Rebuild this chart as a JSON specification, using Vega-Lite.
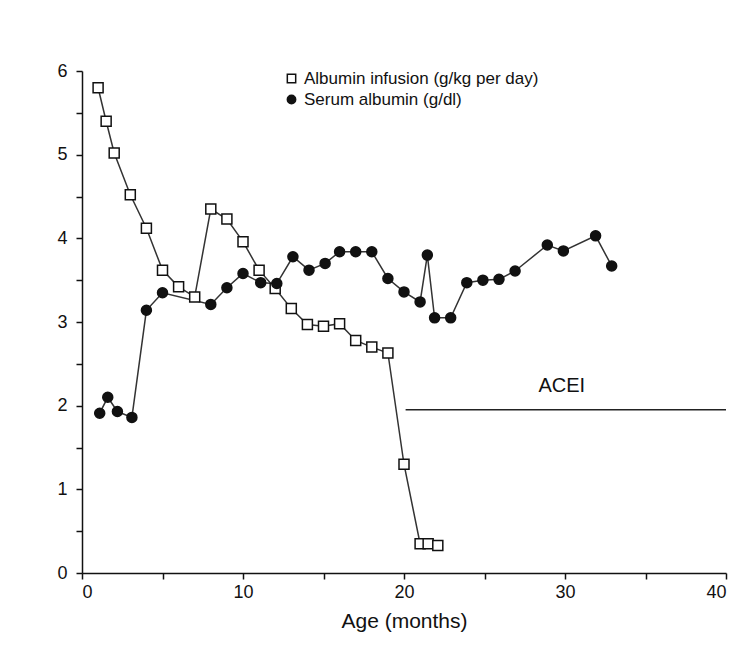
{
  "$schema": "https://vega.github.io/schema/vega-lite/v6.json",
  "width": 644,
  "height": 502,
  "autosize": "none",
  "padding": {"left": 82, "top": 71, "right": 22, "bottom": 82},
  "background": "white",
  "config": {
    "view": {"stroke": null},
    "font": "Liberation Sans",
    "axis": {
      "grid": false,
      "domainColor": "#111",
      "tickColor": "#111",
      "domainWidth": 1.5,
      "tickWidth": 1.5,
      "tickSize": 6,
      "labelColor": "#111",
      "labelFontSize": 18,
      "titleColor": "#111",
      "titleFontSize": 21,
      "titleFontWeight": "normal"
    },
    "legend": {
      "orient": "none",
      "legendX": 201,
      "legendY": -1,
      "labelFontSize": 17,
      "labelLimit": 0,
      "labelColor": "#111",
      "symbolSize": 70,
      "symbolStrokeWidth": 1.5,
      "rowPadding": 3,
      "labelOffset": 4
    }
  },
  "datasets": {
    "points": [
      {"series": "Albumin infusion (g/kg per day)", "age": 1, "value": 5.8},
      {"series": "Albumin infusion (g/kg per day)", "age": 1.5, "value": 5.4},
      {"series": "Albumin infusion (g/kg per day)", "age": 2, "value": 5.02},
      {"series": "Albumin infusion (g/kg per day)", "age": 3, "value": 4.52},
      {"series": "Albumin infusion (g/kg per day)", "age": 4, "value": 4.12},
      {"series": "Albumin infusion (g/kg per day)", "age": 5, "value": 3.62},
      {"series": "Albumin infusion (g/kg per day)", "age": 6, "value": 3.42},
      {"series": "Albumin infusion (g/kg per day)", "age": 7, "value": 3.3},
      {"series": "Albumin infusion (g/kg per day)", "age": 8, "value": 4.35},
      {"series": "Albumin infusion (g/kg per day)", "age": 9, "value": 4.23},
      {"series": "Albumin infusion (g/kg per day)", "age": 10, "value": 3.96},
      {"series": "Albumin infusion (g/kg per day)", "age": 11, "value": 3.62},
      {"series": "Albumin infusion (g/kg per day)", "age": 12, "value": 3.4},
      {"series": "Albumin infusion (g/kg per day)", "age": 13, "value": 3.16},
      {"series": "Albumin infusion (g/kg per day)", "age": 14, "value": 2.97},
      {"series": "Albumin infusion (g/kg per day)", "age": 15, "value": 2.95},
      {"series": "Albumin infusion (g/kg per day)", "age": 16, "value": 2.98},
      {"series": "Albumin infusion (g/kg per day)", "age": 17, "value": 2.78},
      {"series": "Albumin infusion (g/kg per day)", "age": 18, "value": 2.7},
      {"series": "Albumin infusion (g/kg per day)", "age": 19, "value": 2.63},
      {"series": "Albumin infusion (g/kg per day)", "age": 20, "value": 1.3},
      {"series": "Albumin infusion (g/kg per day)", "age": 21, "value": 0.35},
      {"series": "Albumin infusion (g/kg per day)", "age": 21.5, "value": 0.35},
      {"series": "Albumin infusion (g/kg per day)", "age": 22.1, "value": 0.33},
      {"series": "Serum albumin (g/dl)", "age": 1.1, "value": 1.91},
      {"series": "Serum albumin (g/dl)", "age": 1.6, "value": 2.1},
      {"series": "Serum albumin (g/dl)", "age": 2.2, "value": 1.93},
      {"series": "Serum albumin (g/dl)", "age": 3.1, "value": 1.86},
      {"series": "Serum albumin (g/dl)", "age": 4, "value": 3.14},
      {"series": "Serum albumin (g/dl)", "age": 5, "value": 3.35},
      {"series": "Serum albumin (g/dl)", "age": 8, "value": 3.21},
      {"series": "Serum albumin (g/dl)", "age": 9, "value": 3.41},
      {"series": "Serum albumin (g/dl)", "age": 10, "value": 3.58},
      {"series": "Serum albumin (g/dl)", "age": 11.1, "value": 3.47},
      {"series": "Serum albumin (g/dl)", "age": 12.1, "value": 3.46},
      {"series": "Serum albumin (g/dl)", "age": 13.1, "value": 3.78},
      {"series": "Serum albumin (g/dl)", "age": 14.1, "value": 3.62},
      {"series": "Serum albumin (g/dl)", "age": 15.1, "value": 3.7},
      {"series": "Serum albumin (g/dl)", "age": 16, "value": 3.84},
      {"series": "Serum albumin (g/dl)", "age": 17, "value": 3.84},
      {"series": "Serum albumin (g/dl)", "age": 18, "value": 3.84},
      {"series": "Serum albumin (g/dl)", "age": 19, "value": 3.52},
      {"series": "Serum albumin (g/dl)", "age": 20, "value": 3.36},
      {"series": "Serum albumin (g/dl)", "age": 21, "value": 3.24},
      {"series": "Serum albumin (g/dl)", "age": 21.45, "value": 3.8},
      {"series": "Serum albumin (g/dl)", "age": 21.9, "value": 3.05},
      {"series": "Serum albumin (g/dl)", "age": 22.9, "value": 3.05},
      {"series": "Serum albumin (g/dl)", "age": 23.9, "value": 3.47},
      {"series": "Serum albumin (g/dl)", "age": 24.9, "value": 3.5},
      {"series": "Serum albumin (g/dl)", "age": 25.9, "value": 3.51},
      {"series": "Serum albumin (g/dl)", "age": 26.9, "value": 3.61},
      {"series": "Serum albumin (g/dl)", "age": 28.9, "value": 3.92},
      {"series": "Serum albumin (g/dl)", "age": 29.9, "value": 3.85},
      {"series": "Serum albumin (g/dl)", "age": 31.9, "value": 4.03},
      {"series": "Serum albumin (g/dl)", "age": 32.9, "value": 3.67}
    ],
    "acei": [
      {"start": 20.1, "end": 40, "level": 1.95, "labelAge": 29.8, "labelLevel": 2.24, "label": "ACEI"}
    ]
  },
  "layer": [
    {
      "data": {"name": "points"},
      "mark": {"type": "line", "color": "#333", "strokeWidth": 1.5},
      "encoding": {
        "x": {"field": "age", "type": "quantitative", "scale": {"domain": [0, 40], "nice": false},
              "axis": {"values": [0, 5, 10, 15, 20, 25, 30, 35, 40], "labelExpr": "datum.value % 10 === 0 ? format(datum.value, 'd') : ''", "title": "Age (months)", "labelPadding": 4, "titlePadding": 9}},
        "y": {"field": "value", "type": "quantitative", "scale": {"domain": [0, 6], "nice": false},
              "axis": {"values": [0, 0.5, 1, 1.5, 2, 2.5, 3, 3.5, 4, 4.5, 5, 5.5, 6], "labelExpr": "datum.value % 1 === 0 ? format(datum.value, 'd') : ''", "title": null, "labelPadding": 9}},
        "detail": {"field": "series"}
      }
    },
    {
      "data": {"name": "points"},
      "mark": {"type": "point", "filled": true, "stroke": "#111", "strokeWidth": 1.5, "opacity": 1, "size": 100},
      "encoding": {
        "x": {"field": "age", "type": "quantitative"},
        "y": {"field": "value", "type": "quantitative"},
        "shape": {"field": "series", "type": "nominal",
                  "scale": {"domain": ["Albumin infusion (g/kg per day)", "Serum albumin (g/dl)"], "range": ["square", "circle"]},
                  "legend": {"title": null}},
        "fill": {"field": "series", "type": "nominal",
                 "scale": {"domain": ["Albumin infusion (g/kg per day)", "Serum albumin (g/dl)"], "range": ["white", "#111"]},
                 "legend": {"title": null}}
      }
    },
    {
      "data": {"name": "acei"},
      "mark": {"type": "rule", "color": "#222", "strokeWidth": 1.5},
      "encoding": {
        "x": {"field": "start", "type": "quantitative"},
        "x2": {"field": "end"},
        "y": {"field": "level", "type": "quantitative"}
      }
    },
    {
      "data": {"name": "acei"},
      "mark": {"type": "text", "fontSize": 20, "color": "#111"},
      "encoding": {
        "x": {"field": "labelAge", "type": "quantitative"},
        "y": {"field": "labelLevel", "type": "quantitative"},
        "text": {"field": "label"}
      }
    }
  ]
}
